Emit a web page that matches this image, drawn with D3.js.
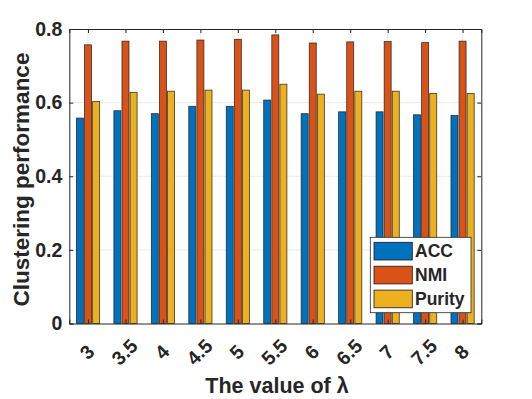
<!DOCTYPE html>
<html><head><meta charset="utf-8">
<script src="https://cdn.jsdelivr.net/npm/d3@7"></script>
<style>body{margin:0;background:#fff}svg{display:block}text{font-family:"Liberation Sans",Arial,sans-serif;font-weight:bold;fill:#262626}</style>
</head><body><svg id="c" width="532" height="399"></svg>
<script>
const categories = ["3","3.5","4","4.5","5","5.5","6","6.5","7","7.5","8"];
const seriesNames = ["ACC","NMI","Purity"];
const accValues    = [0.558,0.578,0.570,0.590,0.590,0.607,0.570,0.575,0.575,0.567,0.565];
const nmiValues    = [0.757,0.767,0.767,0.770,0.772,0.784,0.762,0.765,0.766,0.763,0.767];
const purityValues = [0.603,0.628,0.631,0.634,0.634,0.650,0.623,0.631,0.631,0.625,0.625];
const yTicks = [0,0.2,0.4,0.6,0.8];
const colors = ["#0072BD","#D95319","#EDB120"];

const series = [accValues, nmiValues, purityValues];
const svg = d3.select("#c");
const L=69.3, R=481.3, T=29, B=323.5;
const x = d3.scaleLinear().domain([0.5, categories.length+0.5]).range([L,R]);
const y = d3.scaleLinear().domain([0,0.8]).range([B,T]);
const slot = 8.1, bw = 7;

// grid
svg.append("g").selectAll("line").data(yTicks.slice(1,-1)).join("line")
  .attr("x1",L).attr("x2",R).attr("y1",d=>y(d)).attr("y2",d=>y(d))
  .attr("stroke","#ebebeb").attr("stroke-width",1);
svg.append("g").selectAll("line").data(categories).join("line")
  .attr("x1",(d,i)=>x(i+1)).attr("x2",(d,i)=>x(i+1)).attr("y1",T).attr("y2",B)
  .attr("stroke","#ebebeb").attr("stroke-width",1);

// bars
series.forEach((vals,s)=>{
  svg.append("g").selectAll("rect").data(vals).join("rect")
    .attr("x",(d,i)=>x(i+1)+(s-1)*slot-bw/2)
    .attr("width",bw)
    .attr("y",d=>y(d)).attr("height",d=>y(0)-y(d))
    .attr("fill",colors[s]).attr("stroke","#1a1a1a").attr("stroke-width",0.8).attr("stroke-opacity",0.85);
});

// axes
const ax = d3.axisLeft(y).tickValues(yTicks).tickFormat(d=>d===0?"0":d3.format(".1f")(d)).tickSize(-4).tickPadding(7);
const gy = svg.append("g").attr("transform",`translate(${L},0)`).call(ax);
const gyr = svg.append("g").attr("transform",`translate(${R},0)`).call(d3.axisRight(y).tickValues(yTicks).tickFormat("").tickSize(-4));
const gx = svg.append("g").attr("transform",`translate(0,${B})`).call(d3.axisBottom(x).tickValues(d3.range(1,categories.length+1)).tickFormat("").tickSize(-4));
const gxt = svg.append("g").attr("transform",`translate(0,${T})`).call(d3.axisTop(x).tickValues(d3.range(1,categories.length+1)).tickFormat("").tickSize(-4));
[gy,gyr,gx,gxt].forEach(g=>{
  g.select(".domain").attr("stroke","#262626").attr("stroke-width",1);
  g.selectAll(".tick line").attr("stroke","#262626");
});
gy.selectAll("text").attr("font-size",19.5).attr("fill","#262626").attr("font-family","Liberation Sans, Arial, sans-serif").attr("font-weight","bold");

// x tick labels
svg.append("g").selectAll("text").data(categories).join("text")
  .attr("transform",(d,i)=>`translate(${x(i+1)-1},${352}) rotate(-45)`)
  .attr("text-anchor","middle").attr("dy","0.35em").attr("font-size",19.5).text(d=>d);

// axis labels
svg.append("text").attr("x",277).attr("y",393).attr("text-anchor","middle").attr("font-size",21.5).text("The value of λ");
svg.append("text").attr("transform","translate(29,179.5) rotate(-90)").attr("text-anchor","middle").attr("font-size",22.5).text("Clustering performance");

// legend
const lg = svg.append("g");
lg.append("rect").attr("x",370.3).attr("y",237.3).attr("width",100.7).attr("height",75.4).attr("fill","#fff").attr("stroke","#262626").attr("stroke-width",0.8);
seriesNames.forEach((n,s)=>{
  const ry = 242.3 + s*23.9;
  lg.append("rect").attr("x",374).attr("y",ry).attr("width",38.3).attr("height",17.7).attr("fill",colors[s]).attr("stroke","#1a1a1a").attr("stroke-width",0.8);
  lg.append("text").attr("x",415).attr("y",ry+9).attr("dy","0.35em").attr("font-size",17.5).text(n);
});
</script></body></html>
